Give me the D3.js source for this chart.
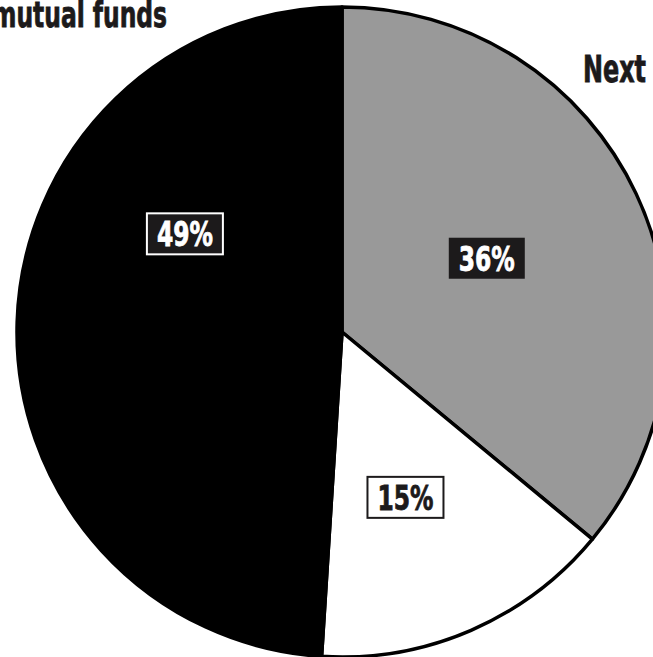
<!DOCTYPE html>
<html>
<head>
<meta charset="utf-8">
<script src="https://cdn.jsdelivr.net/npm/d3@7"></script>
<style>
  html, body { margin: 0; padding: 0; background: #fff; }
  svg { display: block; }
  text { font-family: "Liberation Sans Narrow", "Arial Narrow", "DejaVu Sans Condensed", sans-serif; font-weight: bold; }
</style>
</head>
<body>
<svg id="chart" width="653" height="657"></svg>
<script>
// Share of assets by holder type
const categories = ["Next", "Other", "Mutual funds"];
const shares = [36, 15, 49];
const labels = ["36%", "15%", "49%"];

const fills = ["#999999", "#ffffff", "#000000"];
const boxFill = ["#1c1a1b", "#ffffff", "#1c1a1b"];
const boxStroke = ["none", "#1c1a1b", "#ffffff"];
const textFill = ["#ffffff", "#1c1a1b", "#ffffff"];

const svg = d3.select("#chart");
const cx = 342, cy = 332, R = 325;

const pie = d3.pie().sort(null).value(d => d)(shares);
const arc = d3.arc().innerRadius(0).outerRadius(R);

const g = svg.append("g").attr("transform", `translate(${cx},${cy})`);

g.selectAll("path.slice")
  .data(pie)
  .join("path")
  .attr("class", "slice")
  .attr("d", arc)
  .attr("fill", (d, i) => fills[i])
  .attr("stroke", "#000")
  .attr("stroke-width", 3.5)
  .attr("stroke-linejoin", "round");

// Value label anchors, as (degrees clockwise from 12 o'clock, fraction of radius)
const labelPolar = [[63, 0.50], [159, 0.545], [302, 0.57]];
function labelPos(i) {
  const a = labelPolar[i][0] * Math.PI / 180, r = R * labelPolar[i][1];
  return [r * Math.sin(a), -r * Math.cos(a)];
}

const lab = g.selectAll("g.label")
  .data(pie)
  .join("g")
  .attr("class", "label")
  .attr("transform", (d, i) => { const p = labelPos(i); return `translate(${p[0]},${p[1]})`; });

lab.append("rect")
  .attr("x", -38).attr("y", -20.5)
  .attr("width", 76).attr("height", 41)
  .attr("fill", (d, i) => boxFill[i])
  .attr("stroke", (d, i) => boxStroke[i])
  .attr("stroke-width", 2);

lab.append("text")
  .attr("text-anchor", "middle")
  .attr("dy", "0.37em")
  .attr("font-size", 34)
  .attr("textLength", 56)
  .attr("lengthAdjust", "spacingAndGlyphs")
  .attr("fill", (d, i) => textFill[i])
  .attr("stroke", (d, i) => textFill[i])
  .attr("stroke-width", 0.8)
  .text((d, i) => labels[i]);

// Category names, set in a condensed face
svg.append("text")
  .attr("x", -8).attr("y", 27)
  .attr("font-size", 35)
  .attr("textLength", 175)
  .attr("lengthAdjust", "spacingAndGlyphs")
  .attr("fill", "#1c1a1b")
  .attr("stroke", "#1c1a1b")
  .attr("stroke-width", 0.8)
  .text("mutual funds");

svg.append("text")
  .attr("x", 583).attr("y", 82)
  .attr("font-size", 37)
  .attr("textLength", 63)
  .attr("lengthAdjust", "spacingAndGlyphs")
  .attr("fill", "#1c1a1b")
  .attr("stroke", "#1c1a1b")
  .attr("stroke-width", 0.8)
  .text(categories[0]);
</script>
</body>
</html>
